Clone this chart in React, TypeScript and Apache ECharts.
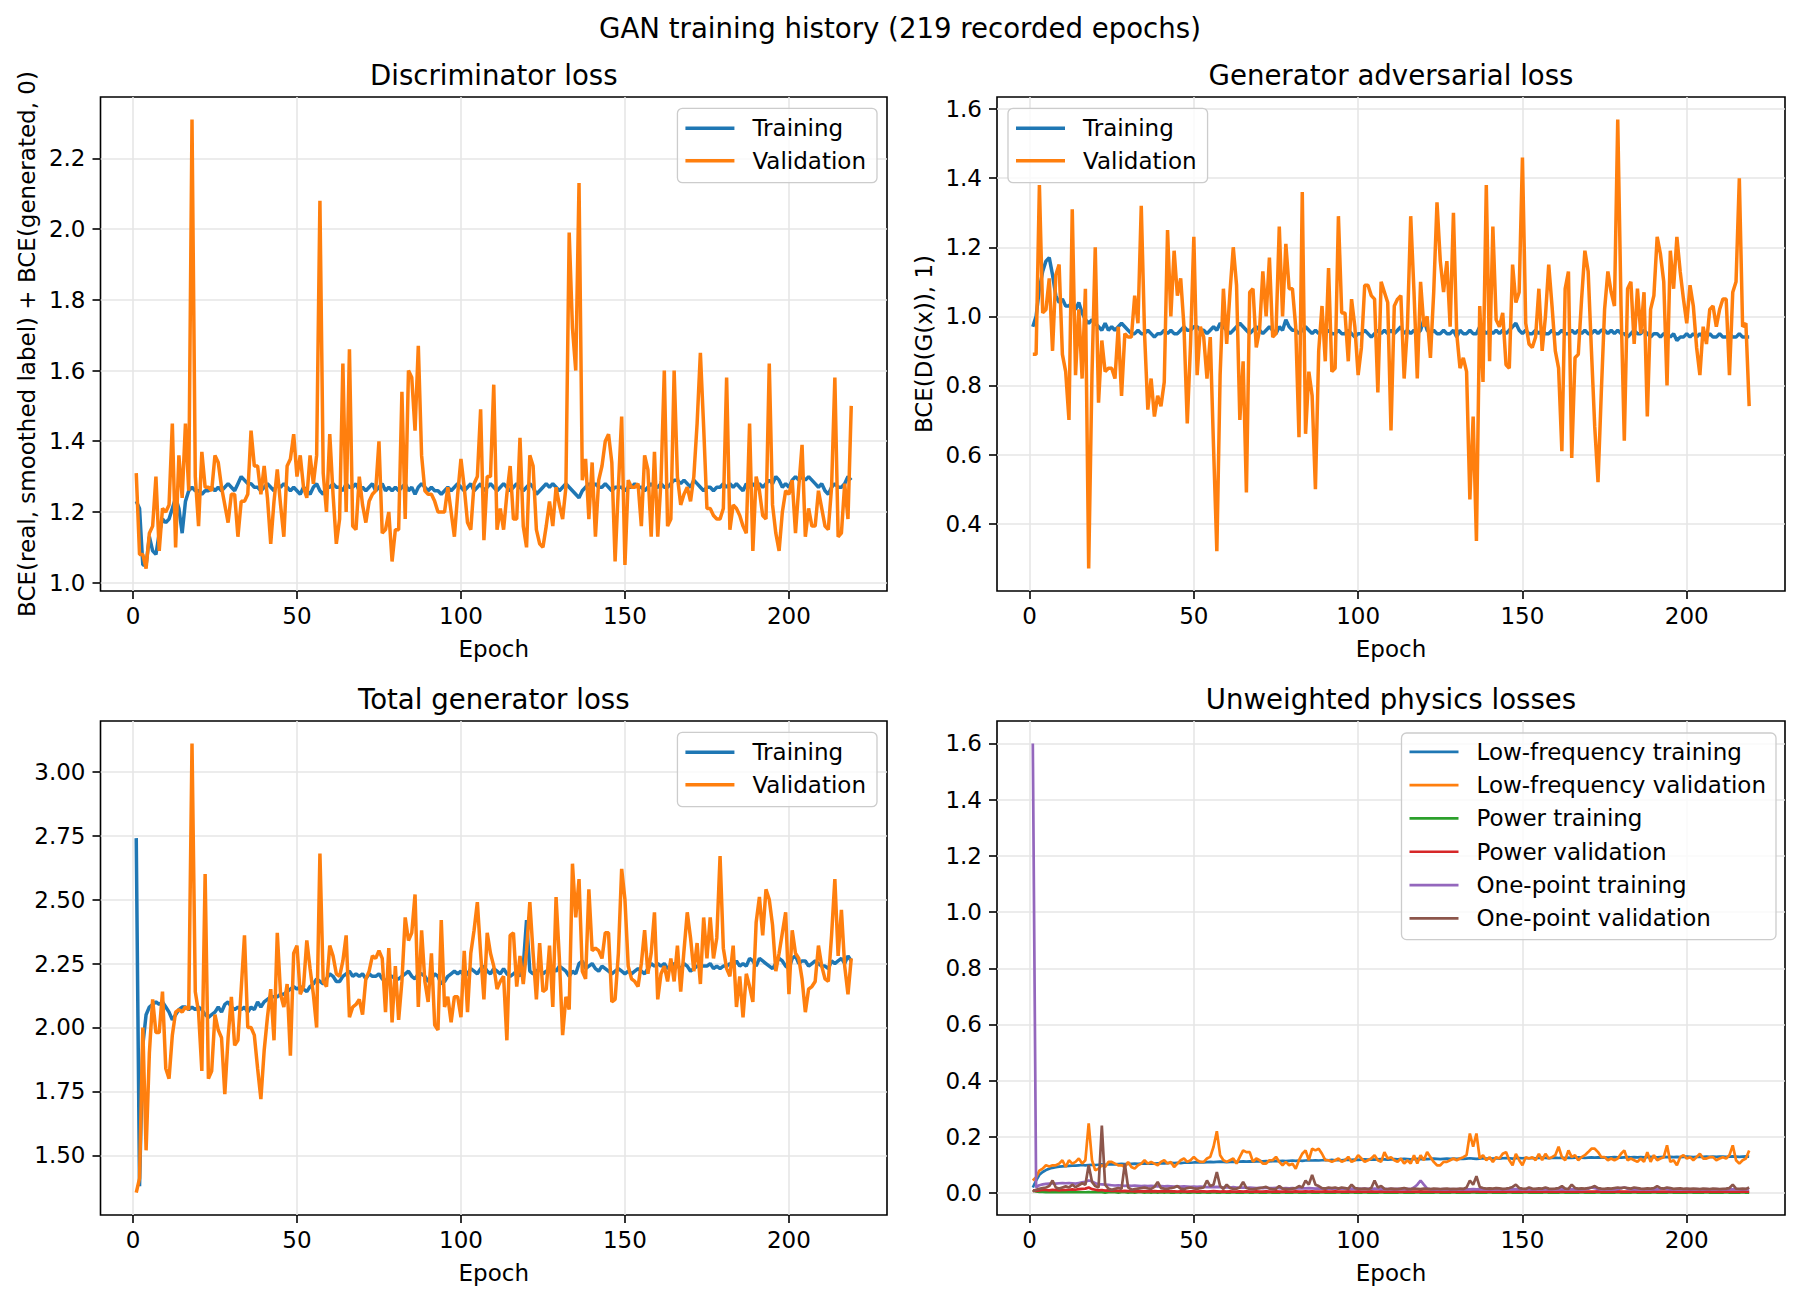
import React, { useEffect, useRef } from "react";
import * as echarts from "echarts";

// ---------------- Data ----------------
const discTrain = [
  1.23,1.21,1.05,1.05,1.13,1.09,1.08,1.14,1.18,1.17,
  1.18,1.21,1.24,1.21,1.14,1.23,1.26,1.27,1.26,1.26,
  1.25,1.26,1.26,1.27,1.26,1.27,1.26,1.27,1.28,1.27,
  1.26,1.28,1.30,1.29,1.28,1.28,1.27,1.27,1.26,1.27,
  1.28,1.27,1.26,1.28,1.27,1.28,1.27,1.26,1.27,1.26,
  1.25,1.27,1.26,1.25,1.27,1.28,1.26,1.25,1.27,1.27,
  1.28,1.27,1.27,1.26,1.28,1.27,1.27,1.28,1.26,1.27,
  1.26,1.27,1.28,1.26,1.27,1.28,1.26,1.27,1.26,1.27,
  1.26,1.27,1.28,1.26,1.27,1.25,1.27,1.28,1.27,1.26,
  1.27,1.26,1.26,1.25,1.26,1.27,1.26,1.27,1.28,1.27,
  1.26,1.27,1.28,1.26,1.27,1.28,1.26,1.27,1.28,1.27,
  1.26,1.27,1.28,1.27,1.26,1.27,1.28,1.27,1.26,1.27,
  1.28,1.27,1.25,1.26,1.27,1.28,1.27,1.28,1.27,1.26,
  1.27,1.28,1.27,1.26,1.25,1.24,1.26,1.27,1.28,1.27,
  1.28,1.27,1.27,1.28,1.27,1.26,1.27,1.27,1.27,1.26,
  1.27,1.27,1.28,1.27,1.27,1.26,1.27,1.28,1.27,1.27,
  1.28,1.27,1.27,1.28,1.29,1.29,1.28,1.29,1.28,1.27,
  1.29,1.28,1.27,1.26,1.27,1.27,1.26,1.27,1.27,1.28,
  1.27,1.28,1.27,1.28,1.27,1.26,1.28,1.27,1.28,1.27,
  1.28,1.27,1.28,1.29,1.28,1.30,1.29,1.27,1.28,1.27,
  1.29,1.30,1.29,1.30,1.29,1.30,1.29,1.28,1.27,1.28,
  1.26,1.25,1.27,1.28,1.27,1.27,1.28,1.30,1.29,
];
const discVal = [
  1.31,1.08,1.08,1.04,1.14,1.16,1.30,1.09,1.21,1.20,
  1.22,1.45,1.10,1.36,1.24,1.45,1.26,2.31,1.30,1.16,
  1.37,1.27,1.27,1.26,1.36,1.34,1.27,1.22,1.17,1.25,
  1.25,1.13,1.23,1.23,1.25,1.43,1.33,1.33,1.25,1.33,
  1.24,1.11,1.23,1.32,1.22,1.13,1.33,1.35,1.42,1.30,
  1.36,1.27,1.24,1.36,1.28,1.36,2.08,1.31,1.20,1.42,
  1.25,1.11,1.18,1.62,1.20,1.66,1.16,1.15,1.30,1.22,
  1.17,1.23,1.25,1.26,1.40,1.14,1.15,1.20,1.06,1.15,
  1.15,1.54,1.18,1.60,1.58,1.43,1.67,1.36,1.26,1.25,
  1.25,1.23,1.20,1.20,1.20,1.27,1.20,1.13,1.25,1.35,
  1.27,1.17,1.15,1.28,1.30,1.49,1.12,1.30,1.30,1.56,
  1.15,1.21,1.15,1.25,1.33,1.18,1.18,1.41,1.16,1.10,
  1.36,1.33,1.15,1.11,1.10,1.16,1.23,1.16,1.27,1.22,
  1.18,1.27,1.99,1.72,1.60,2.13,1.29,1.35,1.18,1.34,
  1.13,1.29,1.33,1.40,1.42,1.34,1.06,1.27,1.47,1.05,
  1.29,1.27,1.27,1.28,1.16,1.36,1.32,1.13,1.37,1.13,
  1.29,1.60,1.16,1.18,1.60,1.30,1.22,1.25,1.27,1.23,
  1.30,1.45,1.65,1.44,1.21,1.21,1.19,1.18,1.18,1.21,
  1.58,1.15,1.22,1.21,1.19,1.16,1.14,1.45,1.09,1.30,
  1.26,1.19,1.18,1.62,1.22,1.14,1.09,1.20,1.26,1.25,
  1.29,1.14,1.27,1.39,1.13,1.21,1.16,1.16,1.26,1.21,
  1.16,1.15,1.27,1.58,1.13,1.14,1.28,1.18,1.50,
];
const genAdvTrain = [
  0.97,1.00,1.08,1.13,1.16,1.17,1.12,1.06,1.04,1.05,
  1.03,1.03,1.04,1.02,1.04,1.01,0.99,0.98,0.99,0.98,
  0.97,0.96,0.98,0.96,0.97,0.96,0.97,0.98,0.97,0.96,
  0.95,0.95,0.96,0.95,0.95,0.96,0.95,0.94,0.95,0.95,
  0.96,0.95,0.96,0.95,0.95,0.96,0.97,0.96,0.96,0.97,
  0.97,0.96,0.96,0.95,0.96,0.97,0.96,0.98,0.97,0.96,
  0.95,0.96,0.97,0.98,0.97,0.96,0.95,0.96,0.97,0.96,
  0.95,0.96,0.97,0.96,0.95,0.97,0.96,0.99,0.97,0.96,
  0.96,0.95,0.96,0.97,0.96,0.95,0.96,0.95,0.96,0.95,
  0.96,0.95,0.95,0.96,0.95,0.95,0.96,0.95,0.94,0.95,
  0.95,0.96,0.95,0.94,0.95,0.96,0.95,0.96,0.95,0.96,
  0.95,0.96,0.97,0.95,0.96,0.95,0.96,0.95,0.96,0.99,
  0.96,0.95,0.96,0.95,0.95,0.96,0.95,0.95,0.96,0.94,
  0.96,0.95,0.95,0.96,0.95,0.95,0.97,0.96,0.95,0.96,
  0.95,0.96,0.95,0.96,0.95,0.96,0.97,0.98,0.96,0.95,
  0.96,0.95,0.95,0.96,0.95,0.96,0.95,0.95,0.96,0.95,
  0.95,0.96,0.95,0.95,0.96,0.95,0.96,0.95,0.96,0.95,
  0.95,0.96,0.95,0.96,0.96,0.95,0.96,0.95,0.96,0.95,
  0.95,0.94,0.95,0.96,0.95,0.95,0.96,0.95,0.94,0.95,
  0.95,0.94,0.95,0.95,0.94,0.95,0.93,0.94,0.94,0.95,
  0.94,0.95,0.94,0.95,0.94,0.94,0.95,0.94,0.94,0.95,
  0.94,0.94,0.95,0.94,0.94,0.95,0.94,0.94,0.94,
];
const genAdvVal = [
  0.89,0.89,1.38,1.01,1.02,1.11,0.90,1.12,1.15,0.89,
  0.84,0.70,1.31,0.83,1.02,0.82,1.08,0.27,0.83,1.20,
  0.75,0.93,0.84,0.85,0.85,0.82,0.97,0.77,0.95,0.94,
  0.94,1.06,0.98,1.32,0.95,0.73,0.82,0.71,0.77,0.74,
  0.81,1.25,1.00,1.19,1.06,1.11,0.97,0.69,0.92,1.23,
  0.83,0.97,0.94,0.82,0.94,0.62,0.32,0.83,1.08,0.92,
  1.07,1.20,1.09,0.70,0.87,0.49,1.07,1.08,0.91,0.96,
  1.13,1.00,1.17,0.94,0.95,1.26,1.00,1.21,1.08,1.08,
  0.97,0.65,1.36,0.66,0.84,0.77,0.50,0.90,1.03,0.87,
  1.14,0.84,0.85,1.29,1.01,1.01,0.87,1.05,0.97,0.83,
  0.91,1.09,1.09,1.06,1.05,0.78,1.10,1.07,1.04,0.67,
  1.03,1.05,1.06,0.82,0.97,1.29,1.07,0.82,1.10,0.97,
  1.00,0.88,1.07,1.33,1.16,1.07,1.16,0.97,1.30,0.95,
  0.85,0.88,0.84,0.47,0.71,0.35,1.03,0.81,1.38,0.87,
  1.26,0.99,0.97,1.01,0.86,0.85,1.15,1.04,1.07,1.46,
  0.98,0.92,0.91,0.94,1.08,0.90,1.00,1.15,1.03,0.90,
  0.85,0.61,1.08,1.13,0.59,0.88,0.89,1.05,1.19,1.13,
  0.90,0.68,0.52,0.78,1.02,1.13,1.07,1.03,1.57,1.03,
  0.64,1.08,1.10,0.92,1.08,0.95,1.07,0.71,1.02,1.06,
  1.23,1.18,1.10,0.80,1.19,1.08,1.23,1.13,1.05,0.98,
  1.09,1.03,0.91,0.83,0.97,0.92,1.02,1.03,0.97,1.02,
  1.05,1.05,0.83,1.07,1.10,1.40,0.97,0.98,0.74,
];
const totalTrain = [
  2.74,1.38,1.93,2.05,2.08,2.09,2.10,2.09,2.10,2.08,
  2.06,2.03,2.05,2.07,2.08,2.08,2.07,2.08,2.07,2.08,
  2.07,2.05,2.04,2.05,2.06,2.08,2.06,2.09,2.10,2.08,
  2.07,2.08,2.07,2.08,2.06,2.08,2.07,2.10,2.08,2.10,
  2.11,2.12,2.12,2.12,2.13,2.13,2.14,2.15,2.16,2.15,
  2.16,2.15,2.14,2.16,2.17,2.19,2.18,2.17,2.19,2.21,
  2.20,2.18,2.18,2.20,2.21,2.22,2.20,2.21,2.20,2.21,
  2.19,2.21,2.20,2.20,2.21,2.19,2.18,2.20,2.20,2.19,
  2.19,2.20,2.21,2.22,2.20,2.19,2.21,2.21,2.20,2.18,
  2.19,2.21,2.20,2.17,2.18,2.20,2.21,2.22,2.21,2.22,
  2.20,2.21,2.23,2.22,2.21,2.23,2.24,2.22,2.21,2.23,
  2.22,2.21,2.23,2.21,2.20,2.21,2.22,2.20,2.24,2.42,
  2.22,2.21,2.22,2.23,2.21,2.22,2.22,2.23,2.22,2.24,
  2.23,2.22,2.20,2.22,2.21,2.25,2.26,2.23,2.24,2.25,
  2.23,2.22,2.24,2.23,2.22,2.21,2.22,2.23,2.22,2.21,
  2.22,2.21,2.22,2.23,2.22,2.21,2.23,2.25,2.24,2.25,
  2.24,2.25,2.23,2.24,2.25,2.24,2.23,2.25,2.24,2.22,
  2.23,2.24,2.24,2.24,2.24,2.25,2.23,2.24,2.23,2.24,
  2.24,2.25,2.24,2.26,2.24,2.25,2.24,2.27,2.26,2.24,
  2.27,2.26,2.25,2.24,2.23,2.25,2.27,2.26,2.24,2.23,
  2.27,2.28,2.25,2.26,2.26,2.24,2.25,2.26,2.25,2.24,
  2.24,2.23,2.26,2.25,2.26,2.27,2.25,2.28,2.26,
];
const totalVal = [
  1.355,1.41,2.00,1.52,1.90,2.11,1.98,1.98,2.14,1.84,
  1.80,1.97,2.06,2.07,2.06,2.08,2.07,3.11,2.14,2.06,
  1.83,2.60,1.80,1.83,2.05,1.99,1.96,1.74,1.96,2.12,
  1.93,1.95,2.15,2.36,2.00,2.00,1.97,1.84,1.72,1.91,
  2.04,2.15,1.95,2.37,2.13,2.08,2.17,1.89,2.29,2.32,
  2.13,2.16,2.34,2.23,2.13,2.00,2.68,2.18,2.16,2.32,
  2.28,2.21,2.20,2.26,2.36,2.04,2.08,2.09,2.11,2.05,
  2.19,2.22,2.28,2.27,2.30,2.27,2.06,2.31,2.02,2.24,
  2.03,2.18,2.43,2.34,2.37,2.52,2.08,2.38,2.18,2.10,
  2.29,2.01,1.99,2.42,2.08,2.12,2.02,2.12,2.12,2.04,
  2.30,2.06,2.29,2.38,2.49,2.29,2.11,2.37,2.29,2.24,
  2.15,2.18,2.20,1.95,2.36,2.37,2.16,2.28,2.17,2.30,
  2.49,2.29,2.11,2.33,2.14,2.15,2.32,2.08,2.51,2.27,
  1.97,2.12,2.07,2.64,2.43,2.58,2.22,2.19,2.54,2.30,
  2.31,2.30,2.27,2.37,2.37,2.10,2.11,2.29,2.62,2.50,
  2.24,2.19,2.18,2.16,2.25,2.38,2.21,2.29,2.45,2.11,
  2.21,2.24,2.18,2.27,2.18,2.32,2.14,2.30,2.45,2.35,
  2.22,2.33,2.17,2.43,2.27,2.43,2.27,2.35,2.67,2.31,
  2.23,2.20,2.32,2.08,2.20,2.04,2.21,2.16,2.10,2.41,
  2.51,2.36,2.54,2.50,2.40,2.22,2.29,2.37,2.45,2.13,
  2.38,2.29,2.27,2.19,2.06,2.15,2.16,2.18,2.32,2.24,
  2.19,2.18,2.36,2.58,2.28,2.46,2.24,2.13,2.27,
];
const lowFreqTrain = [
  0.020,0.045,0.065,0.075,0.082,0.087,0.090,0.092,0.094,0.095,
  0.096,0.097,0.098,0.098,0.099,0.100,0.099,0.100,0.101,0.100,
  0.101,0.102,0.101,0.102,0.103,0.102,0.103,0.104,0.103,0.104,
  0.104,0.105,0.104,0.105,0.106,0.105,0.106,0.105,0.106,0.107,
  0.106,0.107,0.108,0.107,0.108,0.107,0.108,0.109,0.108,0.109,
  0.109,0.110,0.109,0.110,0.111,0.110,0.111,0.112,0.111,0.110,
  0.111,0.112,0.111,0.112,0.113,0.112,0.113,0.112,0.113,0.114,
  0.113,0.114,0.113,0.114,0.115,0.114,0.115,0.114,0.115,0.116,
  0.115,0.116,0.115,0.116,0.117,0.116,0.117,0.116,0.117,0.118,
  0.117,0.118,0.117,0.118,0.117,0.118,0.119,0.118,0.119,0.118,
  0.119,0.120,0.119,0.120,0.119,0.120,0.121,0.120,0.119,0.120,
  0.121,0.120,0.121,0.122,0.121,0.120,0.121,0.122,0.121,0.122,
  0.121,0.122,0.123,0.122,0.121,0.122,0.123,0.122,0.123,0.122,
  0.123,0.122,0.123,0.124,0.123,0.122,0.123,0.124,0.123,0.124,
  0.123,0.124,0.123,0.124,0.125,0.124,0.123,0.124,0.125,0.124,
  0.125,0.124,0.125,0.124,0.125,0.126,0.125,0.124,0.125,0.126,
  0.125,0.126,0.125,0.126,0.125,0.126,0.127,0.126,0.125,0.126,
  0.127,0.126,0.127,0.126,0.127,0.126,0.127,0.128,0.127,0.126,
  0.127,0.128,0.127,0.128,0.127,0.128,0.127,0.128,0.129,0.128,
  0.127,0.128,0.129,0.128,0.129,0.128,0.129,0.128,0.129,0.130,
  0.129,0.128,0.129,0.130,0.129,0.130,0.129,0.130,0.129,0.130,
  0.130,0.129,0.130,0.131,0.130,0.129,0.130,0.131,0.130,
];
const lowFreqVal = [
  0.045,0.057,0.080,0.087,0.099,0.095,0.099,0.099,0.105,0.117,
  0.093,0.117,0.105,0.111,0.123,0.105,0.117,0.248,0.117,0.081,
  0.087,0.099,0.093,0.111,0.111,0.105,0.099,0.099,0.093,0.111,
  0.093,0.087,0.099,0.105,0.117,0.105,0.111,0.105,0.099,0.111,
  0.117,0.105,0.111,0.093,0.105,0.117,0.123,0.111,0.117,0.129,
  0.117,0.111,0.111,0.123,0.129,0.165,0.220,0.135,0.117,0.111,
  0.117,0.123,0.105,0.129,0.152,0.146,0.146,0.111,0.123,0.117,
  0.105,0.105,0.117,0.117,0.129,0.111,0.099,0.111,0.099,0.105,
  0.087,0.117,0.140,0.152,0.117,0.158,0.152,0.158,0.140,0.117,
  0.117,0.111,0.117,0.123,0.111,0.117,0.129,0.111,0.117,0.135,
  0.123,0.111,0.117,0.123,0.135,0.117,0.111,0.146,0.123,0.128,
  0.117,0.111,0.123,0.105,0.117,0.105,0.135,0.105,0.135,0.117,
  0.146,0.128,0.111,0.099,0.099,0.111,0.111,0.117,0.123,0.117,
  0.123,0.128,0.135,0.212,0.165,0.212,0.123,0.135,0.117,0.128,
  0.111,0.128,0.123,0.140,0.146,0.117,0.099,0.140,0.117,0.099,
  0.128,0.123,0.128,0.117,0.140,0.117,0.140,0.123,0.128,0.135,
  0.165,0.128,0.117,0.152,0.128,0.135,0.117,0.128,0.135,0.146,
  0.158,0.158,0.146,0.128,0.128,0.117,0.123,0.117,0.123,0.140,
  0.152,0.117,0.123,0.117,0.111,0.123,0.111,0.146,0.111,0.135,
  0.117,0.123,0.128,0.170,0.111,0.117,0.099,0.128,0.135,0.123,
  0.128,0.117,0.128,0.140,0.123,0.123,0.128,0.128,0.117,0.123,
  0.128,0.123,0.135,0.170,0.117,0.105,0.117,0.123,0.152,
];
const powerTrain = [
  0.010,0.006,0.004,0.004,0.003,0.003,0.004,0.003,0.003,0.003,
  0.003,0.004,0.003,0.003,0.004,0.003,0.003,0.004,0.003,0.003,
  0.003,0.003,0.002,0.003,0.003,0.003,0.002,0.003,0.003,0.002,
  0.003,0.002,0.003,0.003,0.002,0.003,0.002,0.003,0.002,0.003,
  0.002,0.003,0.002,0.002,0.003,0.002,0.003,0.002,0.002,0.003,
  0.002,0.002,0.003,0.002,0.002,0.003,0.002,0.002,0.003,0.002,
  0.002,0.003,0.002,0.002,0.002,0.003,0.002,0.002,0.003,0.002,
  0.002,0.002,0.003,0.002,0.002,0.002,0.003,0.002,0.002,0.002,
  0.003,0.002,0.002,0.002,0.003,0.002,0.002,0.002,0.003,0.002,
  0.002,0.002,0.002,0.003,0.002,0.002,0.002,0.003,0.002,0.002,
  0.002,0.003,0.002,0.002,0.002,0.002,0.003,0.002,0.002,0.002,
  0.002,0.002,0.003,0.002,0.002,0.002,0.002,0.003,0.002,0.002,
  0.002,0.002,0.002,0.003,0.002,0.002,0.002,0.002,0.003,0.002,
  0.002,0.002,0.002,0.002,0.003,0.002,0.002,0.002,0.002,0.003,
  0.002,0.002,0.002,0.002,0.002,0.003,0.002,0.002,0.002,0.002,
  0.003,0.002,0.002,0.002,0.002,0.002,0.003,0.002,0.002,0.002,
  0.002,0.003,0.002,0.002,0.002,0.002,0.002,0.003,0.002,0.002,
  0.002,0.002,0.003,0.002,0.002,0.002,0.002,0.002,0.003,0.002,
  0.002,0.002,0.002,0.003,0.002,0.002,0.002,0.002,0.002,0.003,
  0.002,0.002,0.002,0.002,0.003,0.002,0.002,0.002,0.002,0.002,
  0.003,0.002,0.002,0.002,0.002,0.003,0.002,0.002,0.002,0.002,
  0.002,0.003,0.002,0.002,0.002,0.002,0.003,0.002,0.002,
];
const powerVal = [
  0.010,0.008,0.010,0.012,0.011,0.010,0.012,0.011,0.010,0.012,
  0.011,0.012,0.013,0.012,0.014,0.015,0.016,0.020,0.014,0.012,
  0.010,0.011,0.009,0.010,0.008,0.009,0.008,0.007,0.008,0.007,
  0.007,0.006,0.007,0.006,0.007,0.006,0.006,0.007,0.006,0.006,
  0.006,0.007,0.006,0.006,0.005,0.006,0.006,0.005,0.006,0.006,
  0.005,0.006,0.006,0.005,0.006,0.007,0.006,0.005,0.006,0.005,
  0.006,0.005,0.005,0.006,0.005,0.006,0.005,0.005,0.006,0.005,
  0.005,0.006,0.005,0.005,0.006,0.005,0.005,0.006,0.005,0.005,
  0.006,0.005,0.005,0.006,0.005,0.006,0.005,0.005,0.005,0.006,
  0.005,0.005,0.006,0.005,0.005,0.005,0.006,0.005,0.005,0.006,
  0.005,0.005,0.005,0.006,0.005,0.005,0.006,0.005,0.005,0.005,
  0.006,0.005,0.005,0.005,0.006,0.005,0.005,0.005,0.006,0.005,
  0.005,0.005,0.006,0.005,0.005,0.005,0.005,0.006,0.005,0.005,
  0.005,0.006,0.005,0.005,0.006,0.007,0.005,0.005,0.005,0.006,
  0.005,0.005,0.005,0.006,0.005,0.005,0.005,0.005,0.006,0.005,
  0.005,0.005,0.006,0.005,0.005,0.005,0.005,0.006,0.005,0.005,
  0.005,0.006,0.005,0.005,0.005,0.005,0.006,0.005,0.005,0.005,
  0.005,0.005,0.006,0.005,0.005,0.005,0.005,0.005,0.006,0.005,
  0.005,0.005,0.005,0.006,0.005,0.005,0.005,0.005,0.005,0.006,
  0.005,0.005,0.005,0.005,0.006,0.005,0.005,0.005,0.005,0.005,
  0.006,0.005,0.005,0.005,0.005,0.006,0.005,0.005,0.005,0.005,
  0.005,0.006,0.005,0.005,0.005,0.005,0.006,0.005,0.005,
];
const onePointTrain = [
  1.600,0.020,0.028,0.031,0.033,0.034,0.035,0.034,0.035,0.036,
  0.035,0.036,0.035,0.034,0.036,0.038,0.040,0.045,0.042,0.035,
  0.032,0.031,0.030,0.029,0.028,0.027,0.028,0.027,0.026,0.027,
  0.026,0.027,0.026,0.025,0.026,0.025,0.026,0.025,0.024,0.025,
  0.024,0.025,0.024,0.023,0.024,0.023,0.024,0.023,0.022,0.023,
  0.022,0.023,0.022,0.021,0.022,0.021,0.022,0.021,0.020,0.021,
  0.020,0.021,0.020,0.019,0.020,0.019,0.020,0.019,0.018,0.019,
  0.018,0.019,0.018,0.018,0.019,0.018,0.017,0.018,0.017,0.018,
  0.017,0.018,0.017,0.017,0.018,0.017,0.016,0.017,0.016,0.017,
  0.016,0.017,0.016,0.016,0.017,0.016,0.015,0.016,0.015,0.016,
  0.015,0.016,0.015,0.015,0.016,0.015,0.014,0.015,0.014,0.015,
  0.014,0.015,0.014,0.014,0.015,0.014,0.020,0.030,0.045,0.030,
  0.016,0.014,0.013,0.014,0.013,0.014,0.013,0.014,0.013,0.014,
  0.013,0.014,0.013,0.013,0.014,0.013,0.014,0.013,0.013,0.014,
  0.013,0.014,0.013,0.013,0.014,0.013,0.013,0.014,0.013,0.013,
  0.014,0.013,0.013,0.014,0.013,0.013,0.014,0.013,0.013,0.014,
  0.013,0.013,0.014,0.013,0.013,0.014,0.013,0.013,0.014,0.016,
  0.020,0.018,0.014,0.013,0.013,0.014,0.013,0.013,0.014,0.018,
  0.020,0.016,0.013,0.014,0.013,0.013,0.014,0.013,0.013,0.014,
  0.013,0.015,0.016,0.014,0.013,0.013,0.014,0.013,0.013,0.014,
  0.013,0.013,0.014,0.013,0.013,0.014,0.013,0.013,0.014,0.013,
  0.013,0.014,0.013,0.013,0.014,0.013,0.013,0.014,0.013,
];
const onePointVal = [
  0.005,0.012,0.015,0.018,0.020,0.025,0.045,0.020,0.016,0.020,
  0.024,0.020,0.030,0.021,0.028,0.035,0.030,0.100,0.040,0.025,
  0.020,0.240,0.030,0.016,0.012,0.015,0.018,0.015,0.105,0.020,
  0.012,0.014,0.016,0.018,0.020,0.017,0.015,0.022,0.040,0.018,
  0.016,0.015,0.018,0.020,0.025,0.016,0.014,0.018,0.020,0.017,
  0.015,0.018,0.020,0.045,0.025,0.030,0.075,0.025,0.015,0.030,
  0.018,0.015,0.016,0.020,0.040,0.018,0.015,0.014,0.016,0.018,
  0.020,0.022,0.016,0.014,0.015,0.025,0.016,0.015,0.014,0.016,
  0.018,0.025,0.020,0.045,0.030,0.065,0.030,0.025,0.018,0.016,
  0.020,0.018,0.020,0.016,0.020,0.018,0.015,0.030,0.018,0.016,
  0.015,0.016,0.014,0.018,0.045,0.020,0.025,0.015,0.014,0.016,
  0.015,0.014,0.016,0.018,0.015,0.014,0.016,0.015,0.014,0.016,
  0.015,0.014,0.016,0.015,0.014,0.015,0.016,0.014,0.015,0.014,
  0.016,0.015,0.020,0.045,0.030,0.060,0.022,0.018,0.016,0.017,
  0.016,0.018,0.017,0.015,0.016,0.018,0.022,0.030,0.018,0.016,
  0.015,0.020,0.016,0.015,0.017,0.016,0.020,0.016,0.015,0.016,
  0.018,0.025,0.016,0.015,0.030,0.018,0.016,0.017,0.016,0.018,
  0.020,0.025,0.018,0.016,0.015,0.017,0.016,0.018,0.020,0.018,
  0.020,0.018,0.016,0.020,0.018,0.016,0.015,0.017,0.016,0.018,
  0.025,0.018,0.016,0.020,0.018,0.015,0.016,0.017,0.015,0.016,
  0.015,0.016,0.015,0.014,0.016,0.015,0.014,0.016,0.015,0.014,
  0.015,0.016,0.018,0.030,0.016,0.015,0.016,0.015,0.020,
];

// Tick labels
const epochTicks = [0, 50, 100, 150, 200];
const discTicks = [1.0, 1.2, 1.4, 1.6, 1.8, 2.0, 2.2];
const genAdvTicks = [0.4, 0.6, 0.8, 1.0, 1.2, 1.4, 1.6];
const totalTicks = [1.5, 1.75, 2.0, 2.25, 2.5, 2.75, 3.0];
const physicsTicks = [0.0, 0.2, 0.4, 0.6, 0.8, 1.0, 1.2, 1.4, 1.6];

const SUPTITLE = "GAN training history (219 recorded epochs)";
const TITLES = ["Discriminator loss", "Generator adversarial loss", "Total generator loss", "Unweighted physics losses"];
const LOSS_NAMES = ["Training", "Validation"];
const PHYSICS_NAMES = [
  "Low-frequency training", "Low-frequency validation", "Power training",
  "Power validation", "One-point training", "One-point validation",
];

// ---------------- Styling ----------------
const FONT = "DejaVu Sans";
const TAB = ["#1f77b4", "#ff7f0e", "#2ca02c", "#d62728", "#9467bd", "#8c564b"];
const TICK_FS = 23;
const TITLE_FS = 27.6;

const GRIDS = [
  { left: 100.5, top: 97, width: 786.5, height: 494 },
  { left: 997, top: 97, width: 788, height: 494 },
  { left: 100.5, top: 721, width: 786.5, height: 494 },
  { left: 997, top: 721, width: 788, height: 494 },
];

function pairs(arr: number[]) {
  return arr.map((v, i) => [i + 1, v]);
}
function padExtent(arrs: number[][]) {
  let mn = Infinity, mx = -Infinity;
  for (const a of arrs) for (const v of a) { if (v < mn) mn = v; if (v > mx) mx = v; }
  const r = mx - mn;
  return [mn - 0.05 * r, mx + 0.05 * r];
}

function xAxis(gridIndex: number) {
  return {
    type: "value",
    gridIndex,
    min: 1 - 0.05 * 218,
    max: 219 + 0.05 * 218,
    name: "Epoch",
    nameLocation: "middle",
    nameGap: 46,
    nameTextStyle: { fontSize: TICK_FS, fontFamily: FONT, color: "#000" },
    axisLine: { show: false, onZero: false },
    axisTick: { show: true, inside: false, length: 8, customValues: epochTicks, lineStyle: { color: "#000", width: 1.6 } },
    axisLabel: {
      show: true, customValues: epochTicks, margin: 13, fontSize: TICK_FS, fontFamily: FONT, color: "#000",
      formatter: (v: number) => (epochTicks.indexOf(v) >= 0 ? String(v) : ""),
    },
    splitLine: { show: true, lineStyle: { color: "#e6e6e6", width: 1.6 } },
  };
}

function yAxis(gridIndex: number, ext: number[], ticks: number[], digits: number, name?: string) {
  const ax: any = {
    type: "value",
    gridIndex,
    min: ext[0],
    max: ext[1],
    axisLine: { show: false, onZero: false },
    axisTick: { show: true, inside: false, length: 8, customValues: ticks, lineStyle: { color: "#000", width: 1.6 } },
    axisLabel: {
      show: true, customValues: ticks, margin: 15, fontSize: TICK_FS, fontFamily: FONT, color: "#000",
      formatter: (v: number) => {
        for (const t of ticks) if (Math.abs(t - v) < 1e-9) return v.toFixed(digits);
        return "";
      },
    },
    splitLine: { show: true, lineStyle: { color: "#e6e6e6", width: 1.6 } },
  };
  if (name) {
    ax.name = name;
    ax.nameLocation = "middle";
    ax.nameRotate = 90;
    ax.nameGap = 62;
    ax.nameTextStyle = { fontSize: TICK_FS, fontFamily: FONT, color: "#000" };
  }
  return ax;
}

function line(name: string, data: number[], color: string, axis: number, width: number) {
  return {
    type: "line",
    name,
    xAxisIndex: axis,
    yAxisIndex: axis,
    data: pairs(data),
    showSymbol: false,
    symbol: "none",
    lineStyle: { color, width },
    itemStyle: { color, borderWidth: 0 },
    emphasis: { disabled: true },
    silent: true,
  };
}

function legend(names: string[], pos: any, thickness: number, rowH: number, padding: number[]) {
  return {
    ...pos,
    orient: "vertical",
    data: names.map((n) => ({ name: n, icon: "rect" })),
    padding,
    itemWidth: 49,
    itemHeight: thickness,
    itemGap: 0,
    backgroundColor: "rgba(255,255,255,0.8)",
    borderColor: "#cccccc",
    borderWidth: 1.3,
    borderRadius: 5,
    selectedMode: false,
    itemStyle: { borderWidth: 0 },
    textStyle: { fontSize: TICK_FS, fontFamily: FONT, color: "#000", padding: [0, 0, 0, 13], lineHeight: rowH },
  };
}

export default function App() {
  const ref = useRef<HTMLDivElement>(null);
  useEffect(() => {
    document.body.style.margin = "0";
    const chart = echarts.init(ref.current!, null, { renderer: "svg" });
    const LW = 3.5;
    const PW = 2.7;
    const titleText = (text: string, x: number, y: number) => ({
      type: "text",
      x,
      y,
      style: { text, fontSize: TITLE_FS, fontFamily: FONT, fill: "#000", align: "center", verticalAlign: "middle" },
    });
    const lossPad = [3.8, 11, 5.8, 8];
    chart.setOption({
      animation: false,
      backgroundColor: "#fff",
      grid: GRIDS.map((g) => ({ ...g, show: true, borderColor: "#000", borderWidth: 1.6, backgroundColor: "transparent", containLabel: false })),
      xAxis: [xAxis(0), xAxis(1), xAxis(2), xAxis(3)],
      yAxis: [
        yAxis(0, padExtent([discTrain, discVal]), discTicks, 1, "BCE(real, smoothed label) + BCE(generated, 0)"),
        yAxis(1, padExtent([genAdvTrain, genAdvVal]), genAdvTicks, 1, "BCE(D(G(x)), 1)"),
        yAxis(2, padExtent([totalTrain, totalVal]), totalTicks, 2),
        yAxis(3, padExtent([lowFreqTrain, lowFreqVal, powerTrain, powerVal, onePointTrain, onePointVal]), physicsTicks, 1),
      ],
      legend: [
        legend(LOSS_NAMES, { right: 1800 - 877, top: 108.3 }, 3.4, 32.4, lossPad),
        legend(LOSS_NAMES, { left: 1008, top: 108.3 }, 3.4, 32.4, lossPad),
        legend(LOSS_NAMES, { right: 1800 - 877, top: 732.3 }, 3.4, 32.4, lossPad),
        legend(PHYSICS_NAMES, { right: 24, top: 733 }, 2.7, 33.3, [2.2, 10, 4.6, 8]),
      ],
      graphic: [
        titleText(SUPTITLE, 900, 28),
        titleText(TITLES[0], 493.75, 75),
        titleText(TITLES[1], 1391, 75),
        titleText(TITLES[2], 493.75, 699),
        titleText(TITLES[3], 1391, 699),
      ],
      series: [
        line(LOSS_NAMES[0], discTrain, TAB[0], 0, LW),
        line(LOSS_NAMES[1], discVal, TAB[1], 0, LW),
        line(LOSS_NAMES[0], genAdvTrain, TAB[0], 1, LW),
        line(LOSS_NAMES[1], genAdvVal, TAB[1], 1, LW),
        line(LOSS_NAMES[0], totalTrain, TAB[0], 2, LW),
        line(LOSS_NAMES[1], totalVal, TAB[1], 2, LW),
        line(PHYSICS_NAMES[0], lowFreqTrain, TAB[0], 3, PW),
        line(PHYSICS_NAMES[1], lowFreqVal, TAB[1], 3, PW),
        line(PHYSICS_NAMES[2], powerTrain, TAB[2], 3, PW),
        line(PHYSICS_NAMES[3], powerVal, TAB[3], 3, PW),
        line(PHYSICS_NAMES[4], onePointTrain, TAB[4], 3, PW),
        line(PHYSICS_NAMES[5], onePointVal, TAB[5], 3, PW),
      ],
    });
    return () => chart.dispose();
  }, []);
  return <div ref={ref} style={{ position: "absolute", left: 0, top: 0, width: 1800, height: 1301 }} />;
}
